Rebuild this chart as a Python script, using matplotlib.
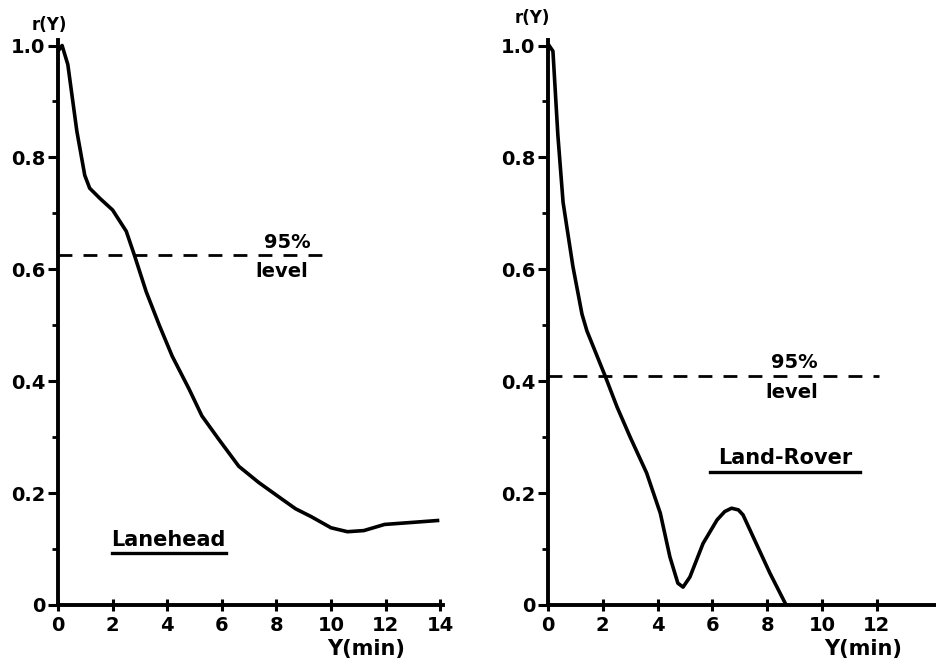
import matplotlib.pyplot as plt
from matplotlib.ticker import MultipleLocator

# Lanehead autocorrelation (left panel)
lane_lag = [0.0, 0.15, 0.36, 0.69, 0.98, 1.16, 1.53, 2.0, 2.5, 2.8, 3.23, 3.71,
            4.18, 4.8, 5.27, 5.89, 6.62, 7.35, 8.18, 8.7, 9.27, 10.0, 10.6, 11.2,
            11.96, 12.8, 13.9]
lane_r = [0.99, 1.0, 0.966, 0.847, 0.768, 0.745, 0.727, 0.706, 0.668, 0.625, 0.56, 0.50,
          0.445, 0.386, 0.338, 0.296, 0.248, 0.219, 0.19, 0.172, 0.158, 0.138, 0.131,
          0.133, 0.144, 0.147, 0.151]
lane_level = 0.625

# Land-Rover autocorrelation (right panel)
rover_lag = [0.04, 0.18, 0.36, 0.55, 0.69, 0.91, 1.24, 1.42, 2.08, 2.52, 3.0, 3.6,
             4.1, 4.45, 4.74, 4.93, 5.18, 5.66, 6.17, 6.45, 6.7, 6.95, 7.12, 7.6,
             8.1, 8.65]
rover_r = [1.0, 0.99, 0.84, 0.72, 0.675, 0.605, 0.52, 0.49, 0.41, 0.354, 0.30, 0.236,
           0.164, 0.086, 0.039, 0.032, 0.05, 0.11, 0.152, 0.167, 0.173, 0.17, 0.161,
           0.11, 0.057, 0.004]
rover_level = 0.41

y_ticks = [0, 0.2, 0.4, 0.6, 0.8, 1.0]
y_labels = ["0", "0.2", "0.4", "0.6", "0.8", "1.0"]

plt.rcParams['font.family'] = ['DejaVu Sans']
plt.rcParams['font.weight'] = 'bold'

fig = plt.figure(figsize=(9.37, 6.64), dpi=100)
ax1 = fig.add_axes([58 / 937, 59 / 664, 385 / 937, 0.851])
ax2 = fig.add_axes([548 / 937, 59 / 664, 389 / 937, 0.851])


def style(ax, xmax, xticks):
    ax.set_xlim(0, xmax)
    ax.set_ylim(0, 1.01)
    for s in ['top', 'right']:
        ax.spines[s].set_visible(False)
    for s in ['left', 'bottom']:
        ax.spines[s].set_linewidth(2.8)
    ax.set_yticks(y_ticks)
    ax.set_yticklabels(y_labels)
    ax.yaxis.set_minor_locator(MultipleLocator(0.1))
    ax.set_xticks(xticks)
    ax.set_xticklabels([str(t) for t in xticks])
    ax.tick_params(axis='both', which='major', width=2.2, length=7, labelsize=14, pad=2)
    ax.tick_params(axis='x', pad=4)
    ax.tick_params(axis='y', which='minor', width=2, length=4)
    ax.tick_params(axis='x', direction='inout', length=8)


# left panel
ax1.plot(lane_lag, lane_r, color='black', lw=2.6)
ax1.plot([0, 10], [lane_level, lane_level], color='black', lw=2, dashes=(5, 4))
style(ax1, 14.1, [0, 2, 4, 6, 8, 10, 12, 14])
ax1.text(8.4, 0.648, "95%", ha='center', va='center', fontsize=14)
ax1.text(8.2, 0.596, "level", ha='center', va='center', fontsize=14)
ax1.text(4.05, 0.116, "Lanehead", ha='center', va='center', fontsize=15)
ax1.plot([1.96, 6.15], [0.093, 0.093], color='black', lw=2.4)
ax1.text(-0.33, 1.036, "r(Υ)", ha='center', va='center', fontsize=12)
ax1.text(11.3, -0.079, "Υ(min)", ha='center', va='center', fontsize=15)

# right panel
ax2.plot(rover_lag, rover_r, color='black', lw=2.6)
ax2.plot([0, 12.1], [rover_level, rover_level], color='black', lw=2, dashes=(5, 4))
style(ax2, 14.2, [0, 2, 4, 6, 8, 10, 12])
ax2.text(9.0, 0.434, "95%", ha='center', va='center', fontsize=14)
ax2.text(8.9, 0.38, "level", ha='center', va='center', fontsize=14)
ax2.text(8.65, 0.262, "Land-Rover", ha='center', va='center', fontsize=15)
ax2.plot([5.9, 11.4], [0.237, 0.237], color='black', lw=2.4)
ax2.text(-0.58, 1.05, "r(Υ)", ha='center', va='center', fontsize=12)
ax2.text(11.5, -0.079, "Υ(min)", ha='center', va='center', fontsize=15)

fig.savefig("out.png", dpi=100)
